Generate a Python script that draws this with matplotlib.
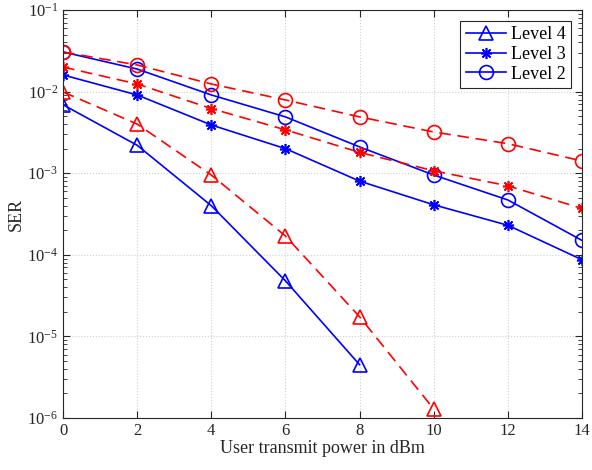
import numpy as np
import matplotlib
matplotlib.use("Agg")
import matplotlib.pyplot as plt

plt.rcParams["font.family"] = ["Liberation Serif", "DejaVu Serif"]
plt.rcParams["mathtext.fontset"] = "stix"

x = [0, 2, 4, 6, 8, 10, 12, 14]

# blue solid curves (in legend)
lvl4_blue = [6.9e-3, 2.2e-3, 4.0e-4, 4.8e-5, 4.5e-6]
lvl3_blue = [1.6e-2, 9.1e-3, 3.9e-3, 2.0e-3, 8.0e-4, 4.1e-4, 2.3e-4, 8.7e-5]
lvl2_blue = [3.06e-2, 1.89e-2, 9.1e-3, 4.9e-3, 2.1e-3, 9.5e-4, 4.7e-4, 1.5e-4]

# red dashed curves
lvl4_red = [9.9e-3, 4.0e-3, 9.5e-4, 1.7e-4, 1.74e-5, 1.29e-6]
lvl3_red = [2.0e-2, 1.24e-2, 6.2e-3, 3.4e-3, 1.8e-3, 1.07e-3, 7.0e-4, 3.7e-4]
lvl2_red = [3.06e-2, 2.12e-2, 1.24e-2, 7.9e-3, 4.9e-3, 3.2e-3, 2.3e-3, 1.41e-3]

fig = plt.figure(figsize=(5.92, 4.70), dpi=100)
ax = fig.add_axes([63 / 592, 1 - 418 / 470, (582 - 63) / 592, (418 - 10) / 470])

ms = 10
lw = 1.2
star = (8, 2, 0)  # MATLAB-like asterisk
ax.plot(x[:len(lvl4_blue)], lvl4_blue, "b-", marker="^", mfc="none", ms=ms, lw=lw, mew=1.2, label="Level 4")
ax.plot(x, lvl3_blue, "b-", marker=star, ms=8, lw=lw, mew=1.2, label="Level 3")
ax.plot(x, lvl2_blue, "b-", marker="o", mfc="none", ms=ms, lw=lw, mew=1.2, label="Level 2")

dash = (0, (7, 4))
ax.plot(x[:len(lvl4_red)], lvl4_red, color="r", ls=dash, marker="^", mfc="none", ms=ms, lw=lw, mew=1.2)
ax.plot(x, lvl3_red, color="r", ls=dash, marker=star, ms=8, lw=lw, mew=1.2)
ax.plot(x, lvl2_red, color="r", ls=dash, marker="o", mfc="none", ms=ms, lw=lw, mew=1.2)

ax.set_yscale("log")
ax.set_xlim(0, 14)
ax.set_ylim(1e-6, 1e-1)
ax.set_xticks(range(0, 15, 2))
ax.set_yticks([1e-6, 1e-5, 1e-4, 1e-3, 1e-2, 1e-1])
ax.grid(True, which="major", ls=":", color="#d0d0d0", lw=0.8)
ax.tick_params(which="both", direction="in", top=True, right=True, labelsize=12, colors="#262626")
ax.tick_params(which="major", length=5)
ax.tick_params(which="minor", length=3)
for s in ax.spines.values():
    s.set_color("#262626")
    s.set_linewidth(0.8)

ax.set_xlabel("User transmit power in dBm", fontsize=13, color="#262626", labelpad=1)
ax.set_ylabel("SER", fontsize=13, color="#262626", labelpad=2)

leg = ax.legend(loc="upper right", fontsize=13, fancybox=False, framealpha=1,
                edgecolor="#262626", handlelength=2.2, borderpad=0.3,
                labelspacing=0.15, handletextpad=0.3, borderaxespad=0.6)
leg.get_frame().set_linewidth(0.8)

fig.savefig("out.png", dpi=100)
